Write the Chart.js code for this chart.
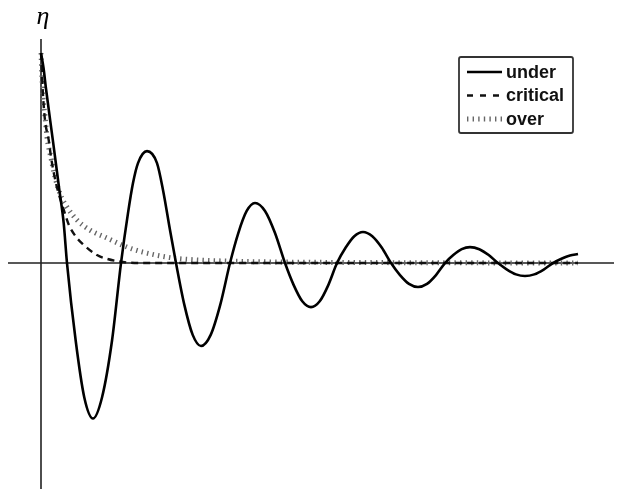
<!DOCTYPE html>
<html>
<head>
<meta charset="utf-8">
<script src="https://cdn.jsdelivr.net/npm/chart.js@4.4.1/dist/chart.umd.min.js"></script>
<style>
  html, body { margin: 0; padding: 0; background: #fff; }
  #wrap { width: 634px; height: 489px; position: relative; }
</style>
</head>
<body>
<div id="wrap"><canvas id="plot"></canvas></div>
<script>
// --- Data: time (t) and displacement (eta) for each damping case ---
const tUnder = [0, 0.25, 0.5, 1.17, 1.83, 2.27, 2.6, 3.47, 4.33, 5.2, 6.1, 7.1, 8.0,
  8.7, 9.2, 9.7, 10.6, 11.6, 12.2, 12.9, 13.5,
  14.33, 15.17, 16.0, 16.97, 17.93, 18.9,
  19.73, 20.57, 21.4, 22.4, 23.4, 24.4,
  25.27, 26.13, 27.0, 27.87, 28.73, 29.6,
  30.47, 31.33, 32.2, 33.13, 34.07, 35.0,
  35.9, 36.8, 37.7, 38.6, 39.5, 40.4,
  41.23, 42.07, 42.9, 43.83, 44.77, 45.7,
  46.6, 47.5, 48.4, 49.33, 50.27, 51.2,
  52.1, 52.9, 53.7];
const etaUnder = [1.0, 0.93, 0.83, 0.59, 0.35, 0.19, 0, -0.37, -0.64, -0.74, -0.64, -0.37, 0,
  0.238, 0.381, 0.476, 0.533, 0.476, 0.348, 0.157, 0,
  -0.198, -0.342, -0.395, -0.342, -0.198, 0,
  0.143, 0.248, 0.286, 0.248, 0.143, 0,
  -0.105, -0.182, -0.21, -0.182, -0.105, 0,
  0.074, 0.128, 0.148, 0.128, 0.074, 0,
  -0.057, -0.099, -0.114, -0.099, -0.057, 0,
  0.038, 0.066, 0.076, 0.066, 0.038, 0,
  -0.031, -0.054, -0.062, -0.054, -0.031, 0,
  0.022, 0.036, 0.043];

const tCritical = [0, 0.1, 0.2, 0.4, 0.77, 1.0, 1.5, 2.3, 2.8, 3.5, 4.2, 5.6, 6.6, 8.2, 10, 53.7];
const etaCritical = [1.0, 0.9, 0.8, 0.68, 0.586, 0.505, 0.38, 0.25, 0.18, 0.125, 0.09, 0.038, 0.02, 0.005, 0, 0];

const tOver = [0, 0.2, 0.4, 0.6, 1.0, 1.4, 1.9, 2.6, 3.6, 4.9, 6.6, 8.6, 10.2, 13.2, 16.0, 19.9, 26.0, 35.0, 53.7];
const etaOver = [1.0, 0.79, 0.7, 0.6, 0.5, 0.41, 0.33, 0.267, 0.205, 0.157, 0.119, 0.076, 0.052, 0.024, 0.014, 0.008, 0.004, 0.002, 0];

const seriesNames = ['under', 'critical', 'over'];

// axis extents
const tMin = -3.3, tMax = 57.3;
const etaMin = -1.076, etaMax = 1.067;

const pairs = (xs, ys) => xs.map((x, i) => ({ x: x, y: ys[i] }));

const styles = [
  { color: '#000', width: 2.6, dash: [] },
  { color: '#111', width: 2.4, dash: [7, 5] },
  { color: '#666', width: 5, dash: [1.4, 4.2] }
];

// zero axes drawn through the scales
const axesPlugin = {
  id: 'zeroAxes',
  beforeDatasetsDraw(chart) {
    const { ctx, chartArea, scales } = chart;
    const x0 = scales.x.getPixelForValue(0);
    const y0 = scales.y.getPixelForValue(0);
    ctx.save();
    ctx.strokeStyle = '#222';
    ctx.lineWidth = 1.6;
    ctx.beginPath();
    ctx.moveTo(chartArea.left, y0);
    ctx.lineTo(chartArea.right, y0);
    ctx.moveTo(x0, chartArea.top);
    ctx.lineTo(x0, chartArea.bottom);
    ctx.stroke();

    ctx.fillStyle = '#000';
    ctx.font = 'italic 26px "Liberation Serif", "DejaVu Serif", serif';
    ctx.textAlign = 'center';
    ctx.textBaseline = 'alphabetic';
    ctx.fillText('η', x0 + 2, 24);
    ctx.restore();
  }
};

// boxed legend, top right
const legendPlugin = {
  id: 'boxLegend',
  afterDatasetsDraw(chart) {
    const ctx = chart.ctx;
    const bx = 459, by = 57, bw = 114, bh = 76;
    ctx.save();
    ctx.fillStyle = '#fff';
    ctx.strokeStyle = '#333';
    ctx.lineWidth = 1.8;
    ctx.beginPath();
    ctx.roundRect(bx, by, bw, bh, 2);
    ctx.fill();
    ctx.stroke();

    ctx.font = 'bold 18px "Liberation Sans", Arial, sans-serif';
    ctx.textBaseline = 'middle';
    ctx.textAlign = 'left';
    seriesNames.forEach((name, i) => {
      const y = 72 + i * 23.5;
      const s = styles[i];
      ctx.strokeStyle = s.color;
      ctx.lineWidth = i === 2 ? 5 : 2.4;
      ctx.setLineDash(i === 1 ? [6, 7] : s.dash);
      ctx.beginPath();
      ctx.moveTo(467, y);
      ctx.lineTo(502, y);
      ctx.stroke();
      ctx.setLineDash([]);
      ctx.fillStyle = '#111';
      ctx.fillText(name, 506, y + 1);
    });
    ctx.restore();
  }
};

new Chart(document.getElementById('plot'), {
  type: 'line',
  data: {
    datasets: [
      { label: seriesNames[0], data: pairs(tUnder, etaUnder) },
      { label: seriesNames[1], data: pairs(tCritical, etaCritical) },
      { label: seriesNames[2], data: pairs(tOver, etaOver) }
    ].map((d, i) => Object.assign(d, {
      borderColor: styles[i].color,
      borderWidth: styles[i].width,
      borderDash: styles[i].dash,
      pointRadius: 0,
      fill: false,
      cubicInterpolationMode: 'monotone',
      borderCapStyle: 'butt'
    }))
  },
  options: {
    responsive: true,
    maintainAspectRatio: false,
    animation: false,
    layout: { padding: { left: 8, right: 20, top: 39, bottom: 0 } },
    plugins: { legend: { display: false }, tooltip: { enabled: false } },
    scales: {
      x: { type: 'linear', min: tMin, max: tMax, display: false },
      y: { type: 'linear', min: etaMin, max: etaMax, display: false }
    }
  },
  plugins: [axesPlugin, legendPlugin]
});
</script>
</body>
</html>
